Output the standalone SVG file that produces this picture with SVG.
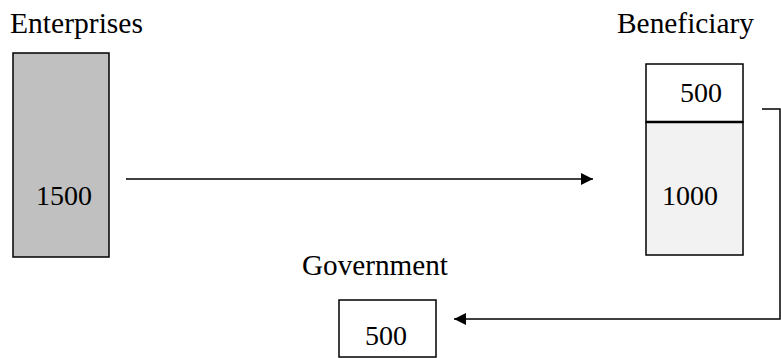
<svg xmlns="http://www.w3.org/2000/svg" width="781" height="358" viewBox="0 0 781 358">
<style>
text{font-family:"Liberation Serif","Times New Roman","DejaVu Serif",serif;font-size:28px;fill:#000}
.lbl{font-size:29px}
.box{stroke:#000;stroke-width:1.5}
.conn{fill:none;stroke:#000;stroke-width:1.5}
</style>
<defs>
<marker id="ah" viewBox="0 0 10 10" refX="10" refY="5" markerWidth="12" markerHeight="12" markerUnits="userSpaceOnUse" orient="auto">
<path d="M0,0 L10,5 L0,10 Z" fill="#000"/>
</marker>
</defs>
<rect width="781" height="358" fill="#fff"/>
<g id="enterprises">
<text class="lbl" x="10" y="33" textLength="133" lengthAdjust="spacingAndGlyphs">Enterprises</text>
<rect class="box" x="13" y="53" width="96" height="204" fill="#c0c0c0"/>
<text x="36" y="205">1500</text>
</g>
<g id="beneficiary">
<text class="lbl" x="617" y="33" textLength="137" lengthAdjust="spacingAndGlyphs">Beneficiary</text>
<rect class="box" x="646" y="64" width="97" height="58" fill="#fff"/>
<rect class="box" x="646" y="122" width="97" height="133" fill="#f2f2f2"/>
<line x1="646" y1="122" x2="743" y2="122" stroke="#000" stroke-width="2.5"/>
<text x="680" y="102">500</text>
<text x="662" y="205">1000</text>
</g>
<g id="government">
<text class="lbl" x="302" y="275" textLength="146" lengthAdjust="spacingAndGlyphs">Government</text>
<rect class="box" x="339" y="300" width="97" height="57" fill="#fff"/>
<text x="365" y="345">500</text>
</g>
<g id="connectors">
<line class="conn" x1="126" y1="179" x2="593" y2="179" marker-end="url(#ah)"/>
<polyline class="conn" points="762,109 780,109 780,319 454,319" marker-end="url(#ah)"/>
</g>
</svg>
